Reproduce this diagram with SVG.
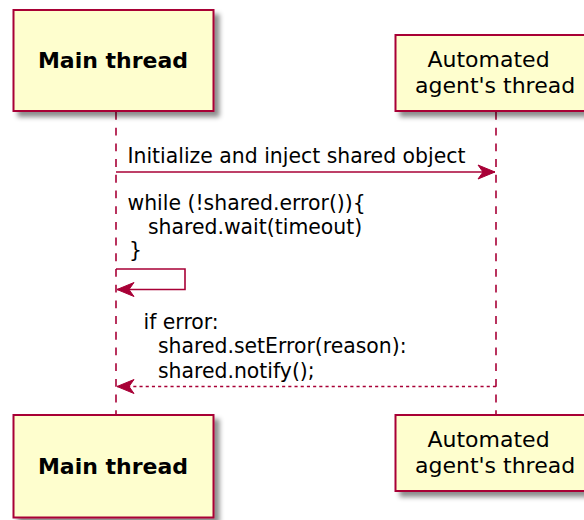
<svg xmlns="http://www.w3.org/2000/svg" width="584" height="520" viewBox="0 0 584 520">
  <defs>
    <filter id="shadow" x="-10%" y="-10%" width="130%" height="130%">
      <feGaussianBlur in="SourceAlpha" stdDeviation="2.5"/>
      <feOffset dx="5" dy="5" result="blur"/>
      <feFlood flood-color="#000000" flood-opacity="0.45"/>
      <feComposite in2="blur" operator="in"/>
      <feMerge>
        <feMergeNode/>
        <feMergeNode in="SourceGraphic"/>
      </feMerge>
    </filter>
    <marker id="head" markerUnits="userSpaceOnUse" markerWidth="20" markerHeight="16" viewBox="0 0 20 16" refX="18" refY="8" orient="auto">
      <polygon points="1,1 18,8 1,15 6,8" fill="#A80036" stroke="#A80036" stroke-width="1" stroke-linejoin="miter"/>
    </marker>
  </defs>
  <style>
    .box { fill: #FEFECE; stroke: #A80036; stroke-width: 2; filter: url(#shadow); }
    .life { stroke: #A80036; stroke-width: 1.6; stroke-dasharray: 7.85 7.85; fill: none; }
    .msg { stroke: #A80036; stroke-width: 1.6; fill: none; }
    .ret { stroke-dasharray: 3.1 3.1; }
    .title { font-family: "DejaVu Sans", sans-serif; font-size: 22px; fill: #000000; }
    .bold { font-weight: bold; }
    .label { font-family: "DejaVu Sans", sans-serif; font-size: 20.4px; fill: #000000; }
  </style>

  <!-- lifelines -->
  <g id="lifelines">
    <line class="life" x1="116" y1="112" x2="116" y2="414"/>
    <line class="life" x1="496" y1="112" x2="496" y2="414"/>
  </g>

  <!-- participant: Main thread (head and foot) -->
  <g id="main-thread-top">
    <rect class="box" x="13.5" y="10" width="200" height="101"/>
    <text class="title bold" x="113" y="67.5" text-anchor="middle">Main thread</text>
  </g>
  <g id="main-thread-bottom">
    <rect class="box" x="13.5" y="415" width="200" height="102.5"/>
    <text class="title bold" x="113" y="474" text-anchor="middle">Main thread</text>
  </g>

  <!-- participant: Automated agent's thread (head and foot) -->
  <g id="agent-thread-top">
    <rect class="box" x="395.5" y="35" width="202" height="76"/>
    <text class="title" x="427.5" y="66.7">Automated</text>
    <text class="title" x="415" y="92.7">agent's thread</text>
  </g>
  <g id="agent-thread-bottom">
    <rect class="box" x="395.5" y="415" width="202" height="76"/>
    <text class="title" x="427.5" y="446.7">Automated</text>
    <text class="title" x="415" y="472.7">agent's thread</text>
  </g>

  <!-- messages -->
  <g id="connectors">
    <line class="msg" x1="116" y1="172" x2="495" y2="172" marker-end="url(#head)"/>
    <polyline class="msg" points="116,269 185,269 185,289.5 117,289.5" marker-end="url(#head)"/>
    <line class="msg ret" x1="496" y1="386.5" x2="117" y2="386.5" marker-end="url(#head)"/>
  </g>

  <!-- message labels -->
  <g id="labels">
    <text class="label" x="127.5" y="163">Initialize and inject shared object</text>
    <text class="label" x="127.5" y="210">while (!shared.error()){</text>
    <text class="label" x="148" y="233.5">shared.wait(timeout)</text>
    <text class="label" x="129" y="257">}</text>
    <text class="label" x="143.5" y="328.5">if error:</text>
    <text class="label" x="158" y="353">shared.setError(reason):</text>
    <text class="label" x="158" y="377.5">shared.notify();</text>
  </g>
</svg>
